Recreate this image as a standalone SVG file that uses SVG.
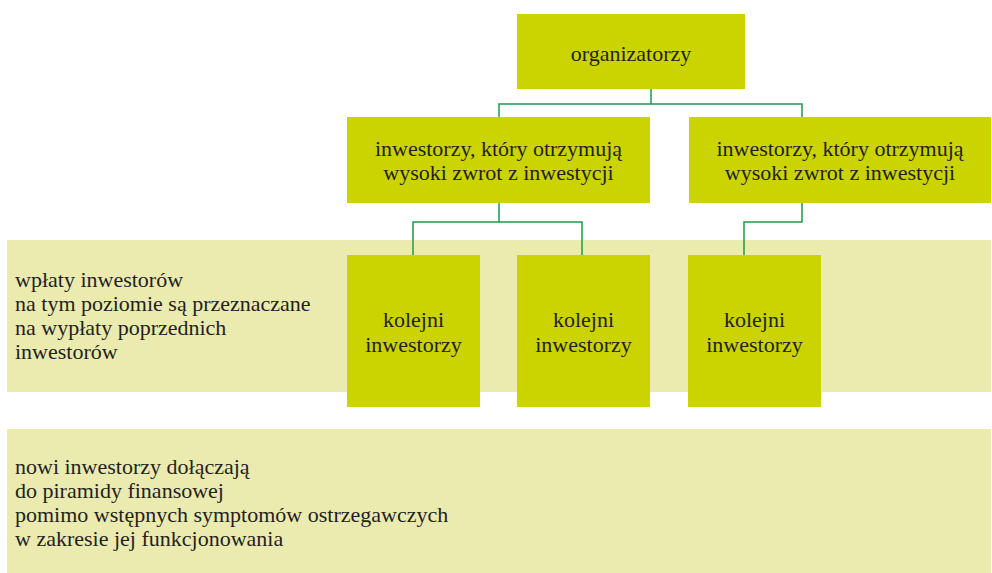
<svg xmlns="http://www.w3.org/2000/svg" width="992" height="573" viewBox="0 0 992 573" font-family="Liberation Serif, Times New Roman, serif" font-size="22">
<style>
.band{fill:#ebebb0}
.box{fill:#cbd400}
text{font-family:"Liberation Serif","Times New Roman",serif;font-size:22px;fill:#231f20}
.c{text-anchor:middle}
.conn{fill:none;stroke:#1f9a4a;stroke-width:1.5}
</style>
<rect width="992" height="573" fill="#ffffff"/>
<g id="band1">
<rect class="band" x="7" y="240" width="984" height="152"/>
<text x="15" y="287">wpłaty inwestorów</text>
<text x="15" y="311">na tym poziomie są przeznaczane</text>
<text x="15" y="335">na wypłaty poprzednich</text>
<text x="15" y="359">inwestorów</text>
</g>
<g id="band2">
<rect class="band" x="7" y="429" width="984" height="144"/>
<text x="15" y="474">nowi inwestorzy dołączają</text>
<text x="15" y="498">do piramidy finansowej</text>
<text x="15" y="522">pomimo wstępnych symptomów ostrzegawczych</text>
<text x="15" y="546">w zakresie jej funkcjonowania</text>
</g>
<g id="connectors">
<path class="conn" d="M651,89 V104 M499,117 V104 H802 V117"/>
<path class="conn" d="M499,203 V222 M413,255 V222 H582 V255"/>
<path class="conn" d="M802,203 V222 H744 V255"/>
</g>
<g id="organizatorzy">
<rect class="box" x="517" y="14" width="228" height="75"/>
<text class="c" x="631" y="61">organizatorzy</text>
</g>
<g id="inwestorzy1">
<rect class="box" x="347" y="117" width="303" height="86"/>
<text class="c" x="498.5" y="156">inwestorzy, który otrzymują</text>
<text class="c" x="498.5" y="180">wysoki zwrot z inwestycji</text>
</g>
<g id="inwestorzy2">
<rect class="box" x="689" y="117" width="302" height="86"/>
<text class="c" x="840" y="156">inwestorzy, który otrzymują</text>
<text class="c" x="840" y="180">wysoki zwrot z inwestycji</text>
</g>
<g id="kolejni1">
<rect class="box" x="347" y="255" width="133" height="152"/>
<text class="c" x="413.5" y="327">kolejni</text>
<text class="c" x="413.5" y="352">inwestorzy</text>
</g>
<g id="kolejni2">
<rect class="box" x="517" y="255" width="133" height="152"/>
<text class="c" x="583.5" y="327">kolejni</text>
<text class="c" x="583.5" y="352">inwestorzy</text>
</g>
<g id="kolejni3">
<rect class="box" x="688" y="255" width="133" height="152"/>
<text class="c" x="754.5" y="327">kolejni</text>
<text class="c" x="754.5" y="352">inwestorzy</text>
</g>
</svg>
